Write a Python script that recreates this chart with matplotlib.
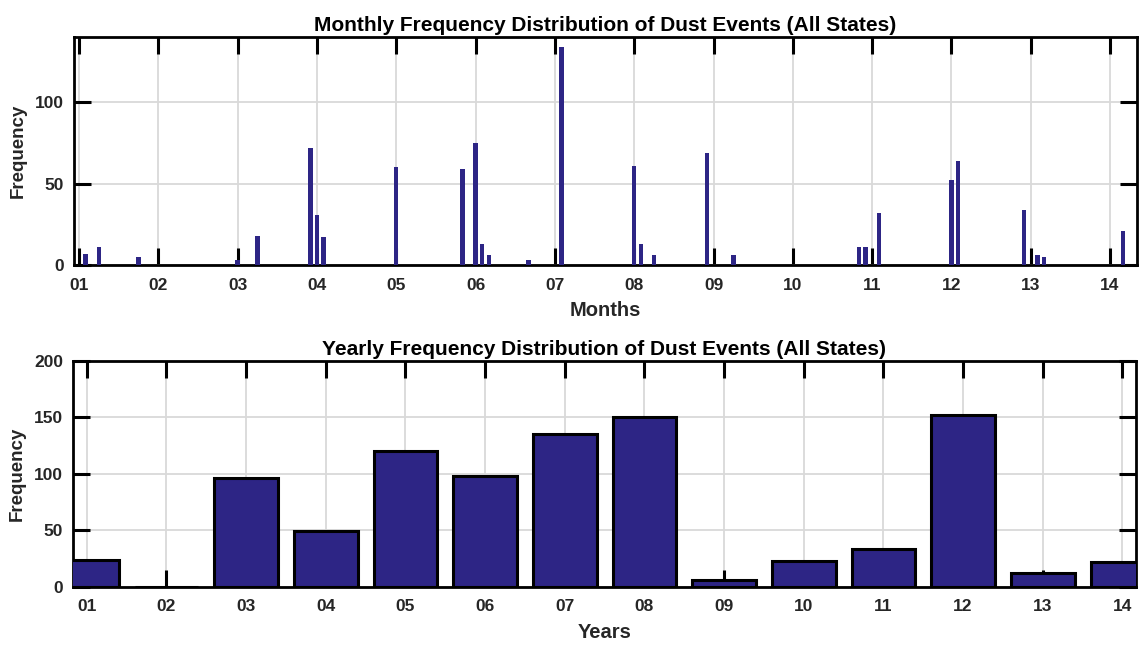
import matplotlib
matplotlib.use("Agg")
import matplotlib.pyplot as plt
import numpy as np

# ---- data ----
year_labels = ["01", "02", "03", "04", "05", "06", "07", "08", "09", "10", "11", "12", "13", "14"]
years = list(range(1, 15))

# monthly events: (year index, month number) and frequency
month_year = [1, 1, 1, 3, 3, 3, 4, 4, 5, 5, 6, 6, 6, 6, 7, 8, 8, 8, 8, 9, 10, 10, 11, 12, 12, 12, 13, 13, 14]
month_num  = [2, 4, 10, 1, 4, 12, 1, 2, 1, 11, 1, 2, 3, 9, 2, 1, 2, 4, 12, 4, 11, 12, 2, 1, 2, 12, 2, 3, 3]
month_freq = [7, 11, 5, 3, 18, 72, 31, 17, 60, 59, 75, 13, 6, 3, 134, 61, 13, 6, 69, 6, 11, 11, 32, 52, 64, 34, 6, 5, 21]

yearly_freq = [24, 0, 96, 49, 120, 98, 135, 150, 6, 23, 33, 152, 12, 22]

bar_color = "#2d2585"
text_color = "#262626"

plt.rcParams["font.family"] = ["Liberation Sans", "DejaVu Sans"]

fig = plt.figure(figsize=(11.44, 6.48), dpi=100)
ax1 = fig.add_axes([0.0647, 0.591, 0.9292, 0.352])
ax2 = fig.add_axes([0.0636, 0.0946, 0.9294, 0.3488])


def style(ax):
    ax.grid(True, color="#d9d9d9", linewidth=1.3)
    ax.set_axisbelow(True)
    for s in ax.spines.values():
        s.set_linewidth(2.0)
        s.set_color("black")
    ax.tick_params(direction="in", length=12, width=2.2, color="black",
                   top=True, right=True, labelsize=12.5, labelcolor=text_color)
    ax.tick_params(axis="x", pad=9)
    ax.tick_params(axis="y", pad=7)
    for lab in ax.get_xticklabels() + ax.get_yticklabels():
        lab.set_fontweight("bold")


# ---- top: monthly ----
xm = np.array(month_year) + (np.array(month_num) - 1) / 12.0
ax1.bar(xm, month_freq, width=0.055, color=bar_color, linewidth=0, zorder=3)
ax1.set_xlim(0.937, 14.34)
ax1.set_ylim(0, 140)
ax1.set_xticks(years)
ax1.set_xticklabels(year_labels)
ax1.set_yticks([0, 50, 100])
style(ax1)
ax1.set_title("Monthly Frequency Distribution of Dust Events (All States)",
              fontsize=15, fontweight="bold", color="black", pad=4)
ax1.set_xlabel("Months", fontsize=14.5, fontweight="bold", color=text_color, labelpad=6)
ax1.set_ylabel("Frequency", fontsize=13.5, fontweight="bold", color=text_color, labelpad=6)

# ---- bottom: yearly ----
ax2.bar(years, yearly_freq, width=0.8, color=bar_color, edgecolor="black", linewidth=2.2, zorder=3)
ax2.set_xlim(0.824, 14.17)
ax2.set_ylim(0, 200)
ax2.set_xticks(years)
ax2.set_xticklabels(year_labels)
ax2.set_yticks([0, 50, 100, 150, 200])
style(ax2)
ax2.set_title("Yearly Frequency Distribution of Dust Events (All States)",
              fontsize=15, fontweight="bold", color="black", pad=4)
ax2.set_xlabel("Years", fontsize=14.5, fontweight="bold", color=text_color, labelpad=6)
ax2.set_ylabel("Frequency", fontsize=13.5, fontweight="bold", color=text_color, labelpad=6)

fig.savefig("out.png", dpi=100)
